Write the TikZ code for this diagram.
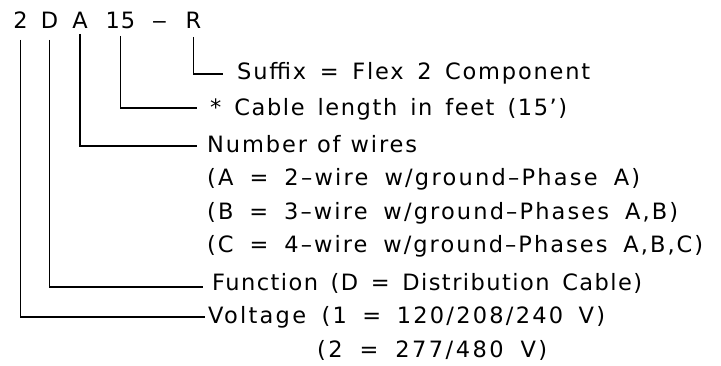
\documentclass[tikz,border=0pt]{standalone}
\usepackage{fontspec}
\usepackage{graphicx}
\setmainfont{DejaVu Sans}
\newcommand{\fitline}[3]{{\addfontfeature{LetterSpace=#2}\makebox[#1pt][s]{#3}}}
\begin{document}
\begin{tikzpicture}[x=1pt,y=-1pt,
  code/.style={anchor=base,inner sep=0pt,font=\fontsize{22.5}{26}\selectfont},
  lbl/.style={anchor=base west,inner sep=0pt,font=\fontsize{22.5}{26}\selectfont},
  lead/.style={line width=1.8pt,line cap=butt,line join=miter}]
\useasboundingbox (0,0) rectangle (721,366);
% code letters
\node[code] (c2) at (20.5,29) {2};
\node[code] (cD) at (49.5,29) {D};
\node[code] (cA) at (80,29) {A};
\node[code] (c15) at (120.5,29) {\addfontfeature{LetterSpace=8}1\kern1pt5};
\node[code] (cdash) at (159.5,29) {\scalebox{1.4}[1]{–}};
\node[code] (cR) at (193.5,29) {R};
% labels
\node[lbl] (suf) at (237,80) {\fitline{353}{8}{Suffix = Flex 2 Component}};
\node[lbl] (len) at (210,116) {\fitline{357}{7}{* Cable length in feet (15’)}};
\node[lbl] (num) at (207,153) {\fitline{210}{8.5}{Number of wires}};
\node[lbl] (wa) at (207,186) {\fitline{433}{10}{(A = 2–wire w/ground–Phase A)}};
\node[lbl] (wb) at (207,220) {\fitline{471}{9.5}{(B = 3–wire w/ground–Phases A,B)}};
\node[lbl] (wc) at (207,253) {\fitline{496}{9}{(C = 4–wire w/ground–Phases A,B,C)}};
\node[lbl] (fun) at (212,291) {\fitline{430}{6.5}{Function (D = Distribution Cable)}};
\node[lbl] (vol) at (208,324) {\fitline{397}{10}{Voltage (1 = 120/208/240 V)}};
\node[lbl] (v2) at (317,358) {\fitline{230}{11}{(2 = 277/480 V)}};
% leader end points
\coordinate (eR) at (223,74);
\coordinate (e15) at (197,108.3);
\coordinate (eA) at (197,145.7);
\coordinate (eD) at (203,286.7);
\coordinate (e2) at (205,316.7);
\draw[lead] ([yshift=-8pt]cR.base) |- (eR);
\draw[lead] ([yshift=-7pt]c15.base) |- (e15);
\draw[lead] ([yshift=-5pt]cA.base) |- (eA);
\draw[lead] ([yshift=-11pt]cD.base) |- (eD);
\draw[lead] ([yshift=-11pt]c2.base) |- (e2);
\end{tikzpicture}
\end{document}
